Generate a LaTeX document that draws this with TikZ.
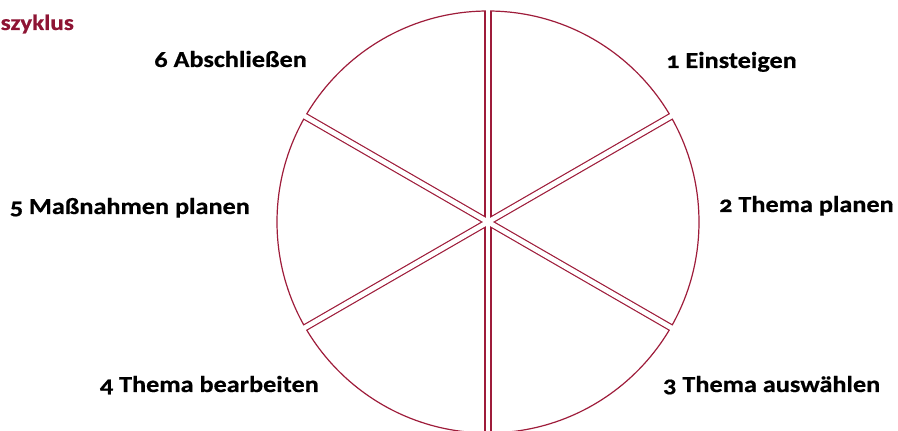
\documentclass[tikz,border=0pt]{standalone}
\usepackage{fontspec}
\setmainfont{Carlito}[Numbers=OldStyle, FakeStretch=1.14, BoldFeatures={FakeBold=0.6}]
\definecolor{wine}{HTML}{9E1C3A}
\definecolor{titlered}{HTML}{8E1434}
\tikzset{
  lbl/.style={font=\fontsize{23}{26}\selectfont\bfseries, inner sep=0pt, text=black},
  redbar/.style={draw=wine, line width=7.2pt},
  whitebar/.style={draw=white, line width=4.8pt},
}
\begin{document}
\begin{tikzpicture}[x=1pt,y=1pt]
\useasboundingbox (0,0) rectangle (898,431);
\clip (0,0) rectangle (898,431);
\coordinate (c) at (488,209);
\def\R{211}
% red outer bars
\foreach \a in {90,30,-30,-90,150,210}
  \draw[redbar] (c) -- ++(\a:\R);
\draw[wine, line width=1.2pt] (c) circle (\R);
\foreach \a in {90,30,-30,-90,150,210}
  \draw[whitebar] (c) -- ++(\a:\R+2);
% labels
\node[lbl, anchor=base west] (l1) at (666,363) {1 Einsteigen};
\node[lbl, anchor=base west] (l2) at (719,219) {2 Thema planen};
\node[lbl, anchor=base west] (l3) at (663,39) {3 Thema auswählen};
\node[lbl, anchor=base east] (l4) at (319,39) {4 Thema bearbeiten};
\node[lbl, anchor=base east] (l5) at (250,217) {5 Maßnahmen planen};
\node[lbl, anchor=base east] (l6) at (307,364) {6 Abschließen};
\node[font=\fontsize{22}{24}\selectfont\bfseries, text=titlered, inner sep=0pt, anchor=base west] (title) at (0.5,401) {szyklus};
\end{tikzpicture}
\end{document}
